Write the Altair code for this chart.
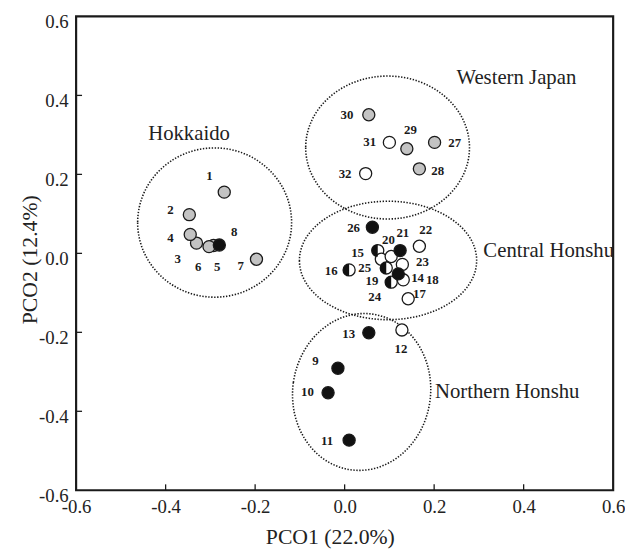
import altair as alt
import pandas as pd

W, H = 544, 480
FONT = "Liberation Serif"
INK = "#1a1a1a"

# ---- data ----
point_id = list(range(1, 33))
pco1 = [-0.269, -0.347, -0.331, -0.345, -0.293, -0.303, -0.197, -0.280,
        -0.015, -0.037, 0.010, 0.128, 0.054, 0.131, 0.074, 0.010,
        0.142, 0.082, 0.104, 0.104, 0.124, 0.167, 0.129, 0.120,
        0.093, 0.062, 0.201, 0.167, 0.139, 0.054, 0.100, 0.047]
pco2 = [0.155, 0.098, 0.026, 0.048, 0.020, 0.017, -0.015, 0.021,
        -0.291, -0.353, -0.473, -0.194, -0.201, -0.067, 0.007, -0.042,
        -0.115, -0.015, -0.073, -0.008, 0.007, 0.018, -0.028, -0.052,
        -0.037, 0.066, 0.281, 0.214, 0.265, 0.351, 0.281, 0.202]
# g = grey, w = white, b = black, h = half black / half white
kind = ["g", "g", "g", "g", "g", "g", "g", "b",
        "b", "b", "b", "w", "b", "w", "h", "h",
        "w", "w", "h", "w", "b", "w", "w", "b",
        "h", "b", "g", "g", "g", "g", "w", "w"]
label_x = [-0.302, -0.389, -0.373, -0.389, -0.285, -0.327, -0.232, -0.247,
           -0.065, -0.083, -0.039, 0.126, 0.009, 0.163, 0.029, -0.030,
           0.167, 0.196, 0.061, 0.098, 0.130, 0.181, 0.174, 0.067,
           0.045, 0.020, 0.246, 0.208, 0.147, 0.005, 0.056, 0.001]
label_y = [0.195, 0.109, -0.015, 0.039, -0.035, -0.035, -0.033, 0.055,
           -0.272, -0.350, -0.476, -0.243, -0.205, -0.062, 0.002, -0.044,
           -0.102, -0.067, -0.071, 0.034, 0.052, 0.059, -0.021, -0.110,
           -0.038, 0.063, 0.279, 0.208, 0.312, 0.351, 0.281, 0.202]

group_names = ["Hokkaido", "Western Japan", "Central Honshu", "Northern Honshu"]
group_text_x = [-0.439, 0.250, 0.310, 0.202]
group_text_y = [0.288, 0.429, -0.008, -0.366]

ell_cx = [-0.2905, 0.096, 0.097, 0.038]
ell_cy = [0.078, 0.268, -0.018, -0.351]
ell_rx = [0.172, 0.183, 0.198, 0.154]
ell_ry = [0.189, 0.181, 0.150, 0.199]
ell_tilt = [0, 0, 0, 8]

tick_values = [-0.6, -0.4, -0.2, 0.0, 0.2, 0.4, 0.6]
inner_ticks = [-0.4, -0.2, 0.0, 0.2, 0.4]

fill_of = {"g": "#c3c3c3", "w": "#ffffff", "b": "#111111", "h": "#ffffff"}

pts = pd.DataFrame({
    "id": [str(i) for i in point_id], "x": pco1, "y": pco2, "kind": kind,
    "lx": label_x, "ly": label_y,
})
pts["fill"] = pts["kind"].map(fill_of)

groups = pd.DataFrame({"name": group_names, "x": group_text_x, "y": group_text_y})
ticks_df = pd.DataFrame({"v": inner_ticks})

xs = alt.Scale(domain=[-0.6, 0.6], nice=False, zero=False)
ys = alt.Scale(domain=[-0.6, 0.6], nice=False, zero=False)

lab_expr = "datum.value < 0 ? '-' + format(-datum.value, '.1f') : format(datum.value, '.1f')"

xaxis = alt.Axis(values=tick_values, labelExpr=lab_expr, domain=False, ticks=False, grid=False,
                 labelFont=FONT, labelFontSize=19, labelColor="#222", labelPadding=8,
                 labelFlush=False, labelOverlap=False,
                 title="PCO1 (22.0%)", titleFont=FONT, titleFontSize=22, titleFontWeight="normal",
                 titleColor="#222", titleX=257, titleY=47, titleBaseline="middle", titleAlign="center")
yaxis = alt.Axis(values=tick_values, labelExpr=lab_expr, domain=False, ticks=False, grid=False,
                 labelFont=FONT, labelFontSize=19, labelColor="#222", labelPadding=8,
                 labelOffset=5, labelFlush=False, labelOverlap=False,
                 title="PCO2 (12.4%)", titleFont=FONT, titleFontSize=22, titleFontWeight="normal",
                 titleColor="#222", titleX=-47, titleY=246, titleAngle=270,
                 titleBaseline="middle", titleAlign="center")

X = lambda f: alt.X(f, scale=xs, axis=xaxis)
Y = lambda f: alt.Y(f, scale=ys, axis=yaxis)

layers = []

# dotted ellipses
for cx, cy, rx, ry, tilt in zip(ell_cx, ell_cy, ell_rx, ell_ry, ell_tilt):
    rx_px = rx * W / 1.2
    ry_px = ry * H / 1.2
    r = ry_px / rx_px
    path = f"M-1,0 A1,{r:.4f} 0 1,0 1,0 A1,{r:.4f} 0 1,0 -1,0 Z"
    e = alt.Chart(pd.DataFrame({"x": [cx], "y": [cy]})).mark_point(
        shape=path, size=(2 * rx_px) ** 2, angle=tilt, filled=False, opacity=1,
        stroke=INK, strokeWidth=1.6, strokeDash=[1.4, 1.6],
    ).encode(x=X("x:Q"), y=Y("y:Q"))
    layers.append(e)

SIZE = 150
circles = alt.Chart(pts).mark_point(
    shape="circle", filled=True, size=SIZE, stroke=INK, strokeWidth=1.3, opacity=1
).encode(x=X("x:Q"), y=Y("y:Q"), fill=alt.Fill("fill:N", scale=None))
layers.append(circles)

LEFT_HALF = "M0,-1 A1,1 0 0,0 0,1 Z"
half = alt.Chart(pts).transform_filter("datum.kind == 'h'").mark_point(
    shape=LEFT_HALF, filled=True, size=SIZE, fill="#111111", strokeWidth=0, opacity=1
).encode(x=X("x:Q"), y=Y("y:Q"))
layers.append(half)

labels = alt.Chart(pts).mark_text(
    font=FONT, fontSize=13, fontWeight="bold", color=INK, align="center", baseline="middle"
).encode(x=X("lx:Q"), y=Y("ly:Q"), text="id:N")
layers.append(labels)

glabels = alt.Chart(groups).mark_text(
    font=FONT, fontSize=21, color="#222", align="left", baseline="alphabetic"
).encode(x=X("x:Q"), y=Y("y:Q"), text="name:N")
layers.append(glabels)

xticks = alt.Chart(ticks_df).mark_rule(color=INK, strokeWidth=1.3).encode(
    x=X("v:Q"), y=alt.value(H), y2=alt.value(H - 6))
yticks = alt.Chart(ticks_df).mark_rule(color=INK, strokeWidth=1.3).encode(
    y=Y("v:Q"), x=alt.value(0), x2=alt.value(6))
layers += [xticks, yticks]

chart = alt.layer(*layers).properties(
    width=W, height=H,
    autosize=alt.AutoSizeParams(type="none"),
    padding={"left": 69, "top": 5, "right": 12, "bottom": 60},
).configure(font=FONT).configure_view(stroke=INK, strokeWidth=2.2)

chart.save("out.html", embed_options={"renderer": "svg", "actions": False})
